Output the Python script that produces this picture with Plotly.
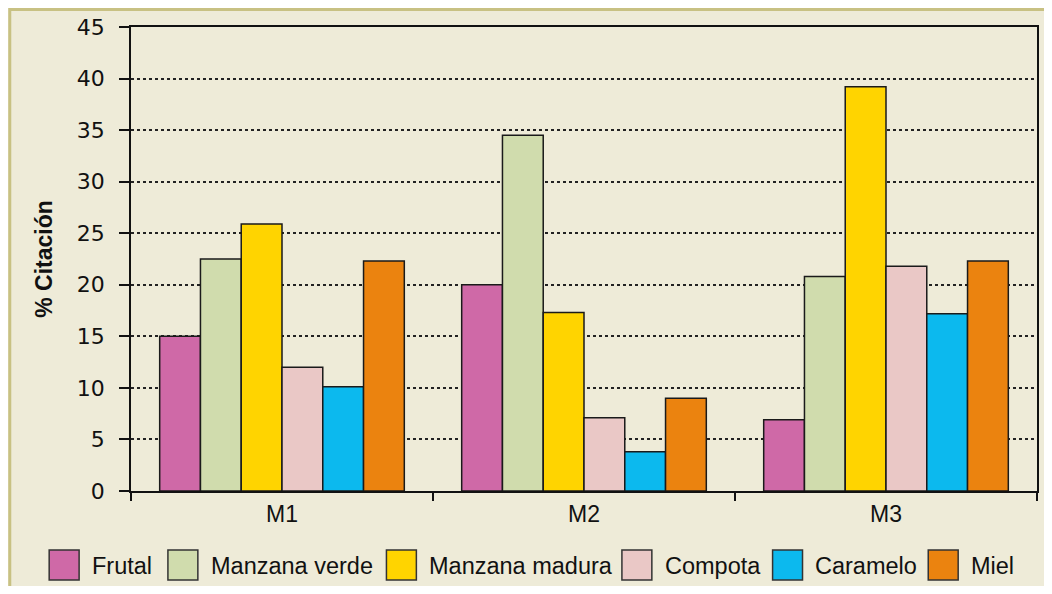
import plotly.graph_objects as go

categories = ["M1", "M2", "M3"]
series_names = ["Frutal", "Manzana verde", "Manzana madura", "Compota", "Caramelo", "Miel"]
frutal = [15.0, 20.0, 6.9]
manzana_verde = [22.5, 34.5, 20.8]
manzana_madura = [25.9, 17.3, 39.2]
compota = [12.0, 7.1, 21.8]
caramelo = [10.1, 3.8, 17.2]
miel = [22.3, 9.0, 22.3]
series_values = [frutal, manzana_verde, manzana_madura, compota, caramelo, miel]
y_ticks = [0, 5, 10, 15, 20, 25, 30, 35, 40, 45]

colors = ["#CF69A7", "#D0DCAD", "#FFD400", "#EAC8C6", "#0CB9EE", "#EB830F"]
BG = "#EEEBD8"

# the page body has an 8px margin all round, keep the figure inside the window
OFF = 8
W, H = 1052 - 2 * OFF, 594 - 2 * OFF
# plot area in page pixels
PX0, PX1, PY0, PY1 = 131, 1039, 27, 491


def px_x(x):
    return (x - PX0) / (PX1 - PX0)


def px_y(y):
    return (PY1 - y) / (PY1 - PY0)


fig = go.Figure()
for name, vals, col in zip(series_names, series_values, colors):
    fig.add_trace(go.Bar(
        x=categories, y=vals, name=name,
        marker=dict(color=col, line=dict(color="#1a1a1a", width=1.5)),
        showlegend=False,
    ))

fig.update_layout(
    width=W, height=H,
    barmode="group", bargap=0.19, bargroupgap=0,
    paper_bgcolor=BG, plot_bgcolor=BG,
    margin=dict(l=PX0 - OFF, r=W + OFF - PX1, t=PY0 - OFF, b=H + OFF - PY1),
    font=dict(family="Liberation Sans, Arial, sans-serif", color="#111"),
)
fig.update_xaxes(
    type="category", tickson="boundaries", ticks="outside", ticklen=8,
    tickcolor="#111", tickwidth=1.5, showline=True, linecolor="#111",
    linewidth=1.5, mirror=True, showgrid=False,
    tickfont=dict(size=23), ticklabelstandoff=2,
)
fig.update_yaxes(
    range=[0, 45], tickvals=y_ticks, ticks="outside", ticklen=10,
    tickcolor="#111", tickwidth=1.5, showline=True, linecolor="#111",
    linewidth=1.5, mirror=True, showgrid=True, gridcolor="#222",
    griddash="dot", gridwidth=1.5, zeroline=False,
    tickfont=dict(size=22, family="DejaVu Sans, sans-serif"),
    ticklabelstandoff=10,
    title=dict(text="<b>% Citación</b>", font=dict(size=23), standoff=18),
)

# outer frame (visible on left and top)
fig.add_shape(type="rect", xref="paper", yref="paper",
              x0=px_x(OFF + 1.5), x1=px_x(1070), y0=px_y(OFF + 1.5), y1=px_y(620),
              line=dict(color="#C8C183", width=3), fillcolor="rgba(0,0,0,0)",
              layer="below")

# legend with large swatches
legend_x = [49, 168, 387, 623, 774, 930]
for lx, name, col in zip(legend_x, series_names, colors):
    fig.add_shape(type="rect", xref="paper", yref="paper",
                  x0=px_x(lx), x1=px_x(lx + 30), y0=px_y(580), y1=px_y(550),
                  line=dict(color="#333", width=1.5), fillcolor=col)
    fig.add_annotation(xref="paper", yref="paper", x=px_x(lx + 41), y=px_y(566),
                       text=name, showarrow=False, xanchor="left", yanchor="middle",
                       font=dict(size=23.5, family="Liberation Sans, Arial, sans-serif",
                                 color="#111"))

fig.write_html("out.html")
